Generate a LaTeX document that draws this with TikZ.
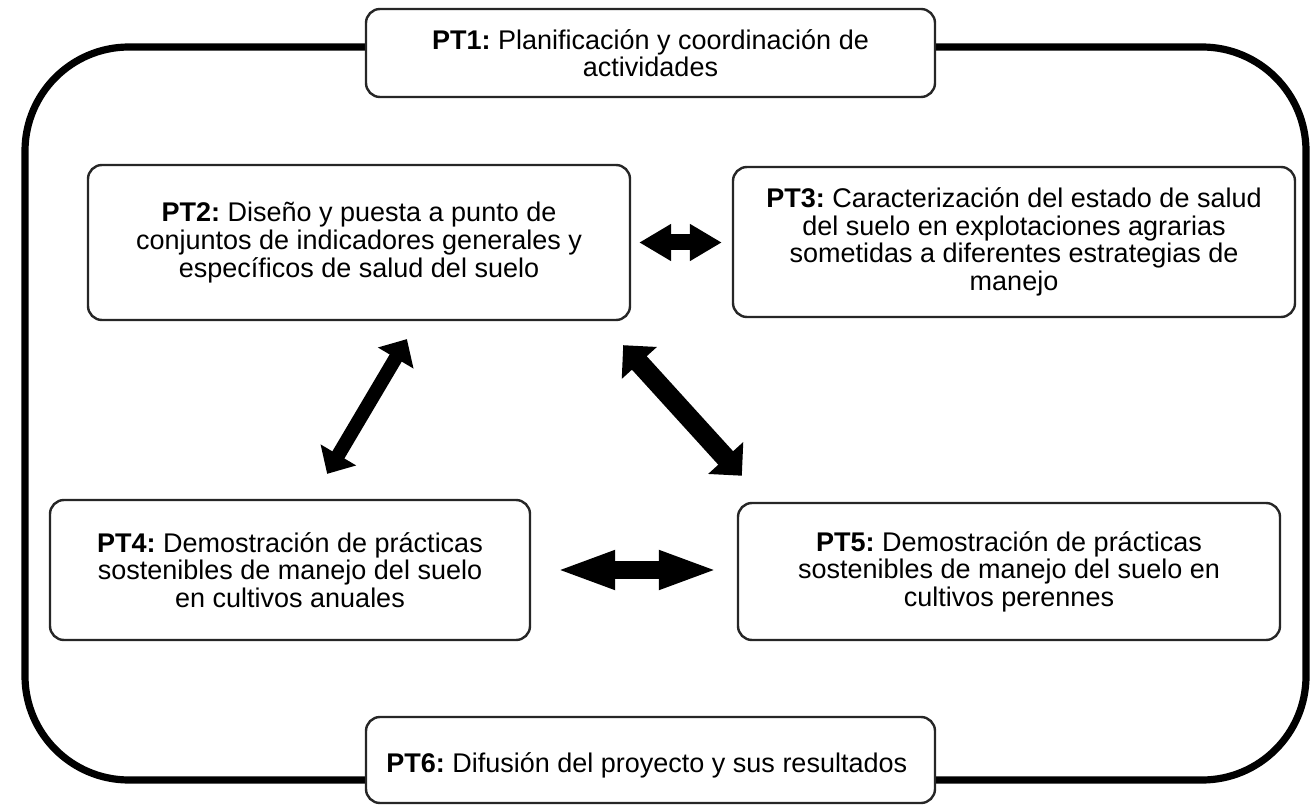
\documentclass[tikz,border=0pt]{standalone}
\usepackage{fontspec}
\setmainfont{Liberation Sans}
\usetikzlibrary{arrows.meta}
\frenchspacing

\begin{document}
\begin{tikzpicture}[
    x=0.5pt, y=-0.5pt,
    box/.style={
        rectangle,
        draw=black!85,
        line width=1.2pt,
        fill=white,
        rounded corners=7pt,
        align=center,
        font=\fontsize{13.5}{13.8}\selectfont,
        inner sep=0pt
    },
    frame/.style={
        line width=3.6pt,
        rounded corners=52pt
    },
    twoway/.style n args={3}{
        line width=#1,
        {Triangle[length=#2,width=#3]}-{Triangle[length=#2,width=#3]}
    }
]

\useasboundingbox (0,0) rectangle (1316,807);

% Outer cycle
\draw[frame] (25,47) rectangle (1306,780);

% PT1
\node[box, minimum width=284.5pt, minimum height=44pt] (pt1) at (650.5,53) {
    \textbf{PT1:} Planificación y coordinación de\\
    actividades
};

% PT2
\node[box, minimum width=271pt, minimum height=77.5pt] (pt2) at (359,242.5) {
    \textbf{PT2:} Diseño y puesta a punto de\\
    conjuntos de indicadores generales y\\
    específicos de salud del suelo
};

% PT3
\node[box, minimum width=281pt, minimum height=75pt] (pt3) at (1014,242) {
    \textbf{PT3:} Caracterización del estado de salud\\
    del suelo en explotaciones agrarias\\
    sometidas a diferentes estrategias de\\
    manejo
};

% PT4
\node[box, minimum width=240pt, minimum height=70pt] (pt4) at (290,570) {
    \textbf{PT4:} Demostración de prácticas\\
    sostenibles de manejo del suelo\\
    en cultivos anuales
};

% PT5
\node[box, minimum width=271pt, minimum height=68.5pt] (pt5) at (1009,571.5) {
    \textbf{PT5:} Demostración de prácticas\\
    sostenibles de manejo del suelo en\\
    cultivos perennes
};

% PT6
\node[box, minimum width=284.5pt, minimum height=43pt,
      text height=15pt, text depth=3pt] (pt6) at (650.5,760) {
    \textbf{PT6:} Difusión del proyecto y sus resultados
};

% Arrows
\draw[twoway={8pt}{16pt}{17.5pt}, shorten <=4pt, shorten >=5pt]
    (pt2.east) -- (pt2.east -| pt3.west);
\draw[twoway={9pt}{30pt}{17.5pt}, shorten <=12pt, shorten >=9pt]
    (pt4.east) -- (pt4.east -| pt5.west);
\draw[twoway={7pt}{11pt}{20pt}, shorten <=10.4pt, shorten >=14.5pt]
    ([shift={(58.5,0)}]pt2.south) -- ([shift={(22.4,0)}]pt4.north);
\draw[twoway={10pt}{12pt}{23pt}, shorten <=16.2pt, shorten >=17.6pt]
    ([shift={(-29.8,0)}]pt2.south east) -- ([shift={(28.7,0)}]pt5.north west);

\end{tikzpicture}
\end{document}
